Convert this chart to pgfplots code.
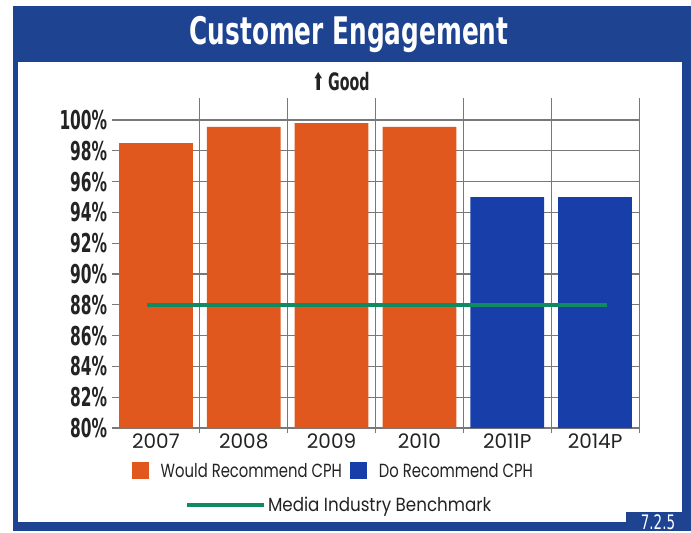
\documentclass[border=0pt]{standalone}
\usepackage{fontspec}
\usepackage{pgfplots}
\pgfplotsset{compat=1.18}
\setmainfont{Poppins}
\newfontfamily\leg[FakeStretch=0.78]{Poppins}
\newfontfamily\legb[FakeStretch=0.88]{Poppins}
\newfontfamily\cond[FakeStretch=0.75]{DejaVu Sans Condensed}
\newfontfamily\condy[FakeStretch=0.66]{DejaVu Sans Condensed Bold}
\newfontfamily\condb[FakeStretch=0.725]{DejaVu Sans Condensed Bold}
\definecolor{frameblue}{RGB}{30,68,145}
\definecolor{barorange}{RGB}{224,88,30}
\definecolor{barblue}{RGB}{24,62,170}
\definecolor{benchgreen}{RGB}{16,138,96}
\definecolor{gridgray}{RGB}{120,120,120}
\definecolor{txt}{RGB}{35,35,35}
\begin{document}
\begin{tikzpicture}
\fill[white] (0pt,0pt) rectangle (691pt,531pt);
\fill[frameblue] (13pt,0pt) rectangle (691pt,525pt);
\fill[white] (18pt,9pt) rectangle (682pt,469pt);
\fill[frameblue] (626pt,0pt) rectangle (691pt,19pt);
\node[white,anchor=base] at (658pt,2pt) {\fontsize{20}{20}\selectfont\cond 7.2.5};
\node[white,anchor=base] at (349pt,486pt) {\fontsize{38}{38}\selectfont\condb Customer Engagement};
\node[txt,anchor=base] at (341pt,440pt) {\fontsize{24}{24}\selectfont\condy ⬆\,Good};
\begin{axis}[
  at={(112pt,103pt)}, anchor=south west,
  scale only axis, width=527pt, height=330pt,
  xmin=-0.5, xmax=5.5, ymin=80, ymax=101.43,
  axis x line*=bottom, axis y line*=left,
  axis line style={gridgray, line width=1pt},
  y axis line style={draw=none},
  xtick={0,...,5},
  xticklabels={2007,2008,2009,2010,2011P,2014P},
  minor xtick={0.5,1.5,...,5.5},
  minor x grid style={gridgray, line width=0.8pt},
  xminorgrids=true,
  ytick={80,82,...,100},
  ymajorgrids=true,
  major grid style={gridgray, line width=1.1pt},
  major x tick style={draw=none},
  major y tick style={draw=none},
  minor tick length=5pt,
  tick style={gridgray, line width=1pt},
  tick align=outside,
  /pgf/number format/assume math mode=true,
  xticklabel style={txt, font=\fontsize{20}{20}\selectfont, yshift=2pt},
  yticklabel style={txt, font=\fontsize{26}{26}\selectfont\condy, xshift=3pt},
  yticklabel={\pgfmathprintnumber{\tick}\%},
  ybar, bar shift=0pt, bar width=0.84,
  legend style={at={(axis description cs:0.42,-0.13)}, anchor=center, draw=none, fill=none,
    font=\fontsize{19}{19}\selectfont\leg, text=txt, column sep=6pt},
  legend columns=2,
  legend image code/.code={\fill[#1] (0pt,-8.5pt) rectangle (17pt,8.5pt); \path (21pt,0pt);},
]
\addplot[fill=barorange, draw=none] coordinates {(0,98.5) (1,99.55) (2,99.8) (3,99.55)};
\addlegendentry{Would Recommend CPH}
\addplot[fill=barblue, draw=none] coordinates {(4,95) (5,95)};
\addlegendentry{Do Recommend CPH}
\end{axis}
\begin{axis}[
  at={(112pt,103pt)}, anchor=south west,
  scale only axis, width=527pt, height=330pt,
  xmin=-0.5, xmax=5.5, ymin=80, ymax=101.43,
  hide axis,
  legend style={at={(axis description cs:0.431,-0.233)}, anchor=center, draw=none, fill=none,
    font=\fontsize{19}{19}\selectfont\legb, text=txt},
  legend image code/.code={\draw[#1, line width=4pt] (0pt,0pt) -- (77pt,0pt);},
]
\addplot[benchgreen, line width=4pt] coordinates {(-0.1,88) (5.14,88)};
\addlegendentry{Media Industry Benchmark}
\end{axis}
\end{tikzpicture}
\end{document}
